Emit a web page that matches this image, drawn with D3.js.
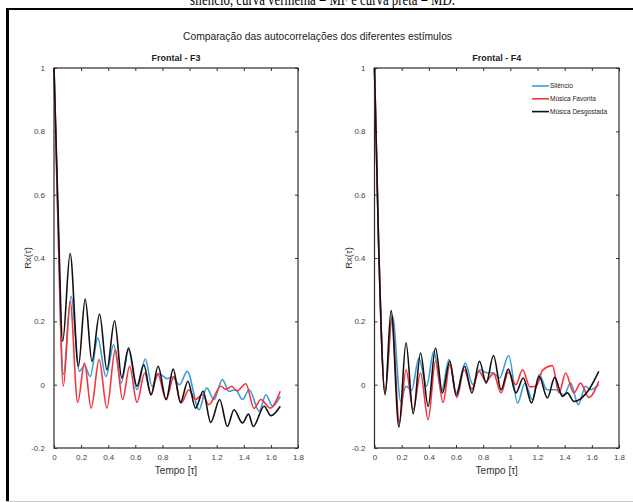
<!DOCTYPE html>
<html><head><meta charset="utf-8">
<script src="https://cdn.jsdelivr.net/npm/d3@7"></script>
<style>body{margin:0;background:#fff}svg{display:block}</style>
</head><body>
<script>
// ---------- data ----------
const seriesNames = ["Silêncio", "Música Favorita", "Música Desgostada"];
const panelTitles = ["Frontal - F3", "Frontal - F4"];
const xTicks = [0, 0.2, 0.4, 0.6, 0.8, 1, 1.2, 1.4, 1.6, 1.8];
const yTicks = [-0.2, 0, 0.2, 0.4, 0.6, 0.8, 1];

const f3Silencio = [[0,1],[0.03,0.5],[0.069,0.032],[0.126,0.279],[0.188,0.042],[0.225,0.06],[0.267,0.026],[0.323,0.147],[0.383,0.026],[0.44,0.126],[0.496,0.005],[0.55,0.11],[0.612,-0.016],[0.674,0.081],[0.723,-0.005],[0.773,0.035],[0.835,0.019],[0.872,0.024],[0.926,0],[0.983,0.042],[1.07,-0.079],[1.126,-0.01],[1.18,-0.047],[1.242,0.016],[1.291,-0.021],[1.34,-0.016],[1.39,-0.047],[1.44,-0.016],[1.514,-0.084],[1.563,-0.032],[1.612,-0.068],[1.669,-0.037]];
const f3Favorita = [[0,1],[0.03,0.5],[0.069,-0.005],[0.119,0.263],[0.175,-0.056],[0.225,0.068],[0.274,-0.074],[0.333,0.079],[0.39,-0.074],[0.452,0.11],[0.506,-0.047],[0.558,0.058],[0.612,-0.056],[0.669,0.037],[0.716,-0.032],[0.765,0.035],[0.827,-0.047],[0.884,0.026],[0.938,-0.058],[0.995,-0.016],[1.044,-0.047],[1.094,-0.032],[1.143,-0.063],[1.23,-0.005],[1.27,-0.015],[1.31,-0.005],[1.35,-0.02],[1.415,0.003],[1.476,-0.075],[1.526,-0.047],[1.595,-0.074],[1.669,-0.021]];
const f3Desgostada = [[0,1],[0.03,0.55],[0.064,0.137],[0.119,0.414],[0.18,0.058],[0.23,0.27],[0.28,0.074],[0.336,0.223],[0.39,0.047],[0.447,0.202],[0.5,0.021],[0.55,0.116],[0.612,-0.005],[0.662,0.063],[0.716,-0.032],[0.768,0.058],[0.827,-0.047],[0.879,0.049],[0.933,-0.056],[0.988,0.011],[1.044,-0.074],[1.1,-0.021],[1.156,-0.119],[1.222,-0.047],[1.279,-0.132],[1.328,-0.079],[1.39,-0.121],[1.435,-0.093],[1.47,-0.132],[1.55,-0.068],[1.6,-0.098],[1.669,-0.068]];

const f4Silencio = [[0,1],[0.03,0.45],[0.078,-0.026],[0.132,0.218],[0.193,-0.053],[0.232,-0.005],[0.273,-0.018],[0.327,0.084],[0.383,-0.005],[0.437,0.105],[0.493,-0.021],[0.549,0.079],[0.602,-0.026],[0.668,0.068],[0.724,0],[0.773,0.047],[0.834,0.037],[0.87,0.038],[0.92,0.021],[0.988,0.092],[1.054,-0.058],[1.107,0.005],[1.163,-0.047],[1.212,0.032],[1.27,-0.016],[1.334,-0.016],[1.395,-0.032],[1.444,0.005],[1.5,-0.063],[1.554,-0.005],[1.59,-0.016],[1.651,0]];
const f4Favorita = [[0,1],[0.03,0.45],[0.078,-0.026],[0.127,0.21],[0.183,-0.121],[0.232,0.047],[0.285,-0.079],[0.339,0.037],[0.395,-0.111],[0.449,0.074],[0.505,-0.056],[0.554,0.063],[0.607,-0.04],[0.659,0.047],[0.717,-0.014],[0.768,0.042],[0.822,0.011],[0.876,0.035],[0.932,-0.026],[0.985,0.039],[1.041,0],[1.09,0.047],[1.144,-0.007],[1.19,-0.005],[1.237,0.045],[1.31,0.06],[1.359,-0.026],[1.407,0.037],[1.468,-0.026],[1.517,0.005],[1.578,-0.04],[1.651,0.011]];
const f4Desgostada = [[0,1],[0.03,0.45],[0.078,-0.032],[0.122,0.234],[0.18,-0.134],[0.232,0.132],[0.285,-0.092],[0.339,0.1],[0.395,-0.068],[0.449,0.116],[0.5,-0.026],[0.554,0.074],[0.602,-0.034],[0.663,0.058],[0.717,-0.026],[0.773,0.074],[0.822,0.005],[0.876,0.092],[0.932,-0.016],[0.985,0.049],[1.041,-0.026],[1.095,0.021],[1.156,-0.058],[1.212,0.026],[1.273,-0.042],[1.327,0.023],[1.383,-0.037],[1.42,-0.026],[1.468,-0.053],[1.578,-0.016],[1.651,0.042]];

const colors = ["#3d9bd8", "#f8333a", "#111111"];

// ---------- drawing ----------
const W = 633, H = 502;
const svg = d3.select("body").append("svg").attr("width", W).attr("height", H);
const FONT = "'Liberation Sans', Arial, sans-serif";

// frame
svg.append("line").attr("x1", 7.5).attr("x2", 7.5).attr("y1", 8).attr("y2", 502).attr("stroke", "#000").attr("stroke-width", 3);
svg.append("line").attr("x1", 6).attr("x2", 633).attr("y1", 9).attr("y2", 9).attr("stroke", "#000").attr("stroke-width", 2);
svg.append("line").attr("x1", 6).attr("x2", 633).attr("y1", 501.5).attr("y2", 501.5).attr("stroke", "#c8c8c8").attr("stroke-width", 1);

// caption (cut at top, as in the reference)
svg.append("text").attr("x", 190).attr("y", 5).attr("font-family", "'Liberation Serif', 'Times New Roman', serif")
  .attr("font-size", 17).attr("textLength", 265).attr("lengthAdjust", "spacingAndGlyphs").attr("fill", "#000")
  .text("silêncio, curva vermelha = MF e curva preta = MD.");

// main title
svg.append("text").attr("x", 183).attr("y", 40).attr("font-family", FONT).attr("font-size", 11)
  .attr("textLength", 269).attr("lengthAdjust", "spacingAndGlyphs").attr("fill", "#222")
  .text("Comparação das autocorrelações dos diferentes estímulos");

const panels = [
  {x0: 54, x1: 298, data: [f3Silencio, f3Favorita, f3Desgostada], title: panelTitles[0], legend: false},
  {x0: 374.5, x1: 619, data: [f4Silencio, f4Favorita, f4Desgostada], title: panelTitles[1], legend: true}
];
const yTop = 68, yBot = 448;

panels.forEach(p => {
  const x = d3.scaleLinear().domain([0, 1.8]).range([p.x0, p.x1]);
  const y = d3.scaleLinear().domain([-0.2, 1]).range([yBot, yTop]);
  const g = svg.append("g");

  const fmt = d => String(+d.toFixed(1));
  const styleAxis = sel => {
    sel.select(".domain").remove();
    sel.selectAll(".tick line").attr("stroke", "#333");
    sel.selectAll(".tick text").attr("font-family", FONT).attr("font-size", 8).attr("fill", "#444");
  };
  g.append("g").attr("transform", `translate(0,${yBot})`)
    .call(d3.axisBottom(x).tickValues(xTicks).tickSizeInner(-3).tickSizeOuter(0).tickPadding(6).tickFormat(fmt))
    .call(styleAxis);
  g.append("g").attr("transform", `translate(0,${yTop})`)
    .call(d3.axisTop(x).tickValues(xTicks).tickSizeInner(-3).tickSizeOuter(0).tickFormat(""))
    .call(styleAxis);
  g.append("g").attr("transform", `translate(${p.x0},0)`)
    .call(d3.axisLeft(y).tickValues(yTicks).tickSizeInner(-3).tickSizeOuter(0).tickPadding(9).tickFormat(fmt))
    .call(styleAxis);
  g.append("g").attr("transform", `translate(${p.x1},0)`)
    .call(d3.axisRight(y).tickValues(yTicks).tickSizeInner(-3).tickSizeOuter(0).tickFormat(""))
    .call(styleAxis);

  // box
  g.append("rect").attr("x", p.x0).attr("y", yTop).attr("width", p.x1 - p.x0).attr("height", yBot - yTop)
    .attr("fill", "none").attr("stroke", "#2a2a2a").attr("stroke-width", 1.2);

  const line = d3.line().x(d => x(d[0])).y(d => y(d[1])).curve(d3.curveMonotoneX);
  p.data.forEach((s, i) => {
    g.append("path").datum(s).attr("d", line).attr("fill", "none")
      .attr("stroke", colors[i]).attr("stroke-width", 1.6).attr("stroke-linejoin", "round");
  });

  const cx = (p.x0 + p.x1) / 2;
  g.append("text").attr("x", cx).attr("y", 61).attr("text-anchor", "middle").attr("font-family", FONT)
    .attr("font-weight", "bold").attr("font-size", 9).attr("fill", "#222").text(p.title);
  g.append("text").attr("x", cx).attr("y", 474).attr("text-anchor", "middle").attr("font-family", FONT)
    .attr("font-size", 10).attr("fill", "#333").text("Tempo [τ]");
  g.append("text").attr("transform", `translate(${p.x0 - 23},${(yTop + yBot) / 2}) rotate(-90)`)
    .attr("text-anchor", "middle").attr("font-family", FONT).attr("font-size", 9.5).attr("fill", "#333").text("Rx(τ)");

  if (p.legend) {
    const lx = 532, ly = 86;
    seriesNames.forEach((n, i) => {
      const yy = ly + i * 12.8;
      g.append("line").attr("x1", lx).attr("x2", lx + 17).attr("y1", yy).attr("y2", yy)
        .attr("stroke", colors[i]).attr("stroke-width", 1.6);
      g.append("text").attr("x", lx + 18).attr("y", yy + 2.3).attr("font-family", FONT)
        .attr("font-size", 6.5).attr("fill", "#222").text(n);
    });
  }
});
</script>
</body></html>
